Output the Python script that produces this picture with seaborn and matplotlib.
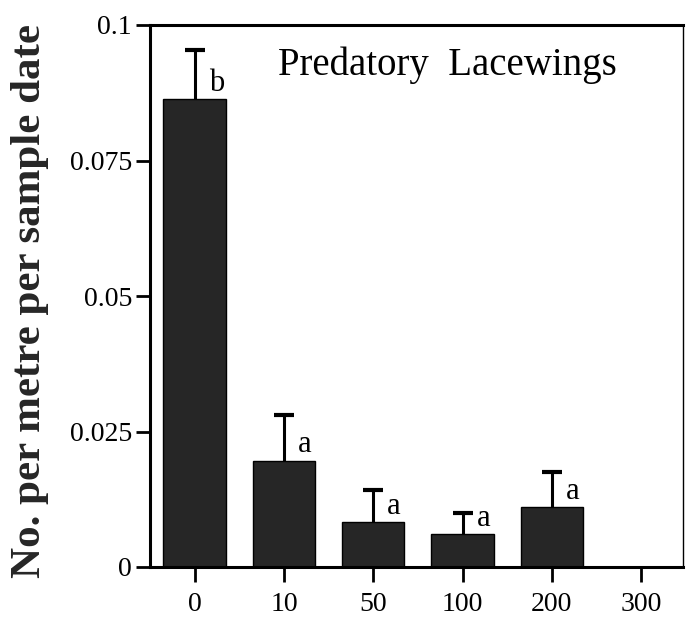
import numpy as np
import pandas as pd
import matplotlib
matplotlib.use("Agg")
import matplotlib.pyplot as plt
import seaborn as sns

# --- data ---
rates = ["0", "10", "50", "100", "200", "300"]
means = [0.0863, 0.0196, 0.0083, 0.0061, 0.0111, 0.0]
upper_err = [0.0091, 0.0084, 0.0059, 0.0039, 0.0064, 0.0]
letters = ["b", "a", "a", "a", "a", ""]

df = pd.DataFrame({"rate": rates, "mean": means, "err": upper_err, "letter": letters})
df["top"] = df["mean"] + df["err"]

sns.set_theme(style="white")
plt.rcParams["font.family"] = ["Liberation Serif", "DejaVu Serif"]

fig = plt.figure(figsize=(6.86, 6.25), dpi=100)
ax = fig.add_axes([0.2187, 0.0928, 0.777, 0.8672])

sns.barplot(data=df, x="rate", y="mean", order=rates, color="#262626",
            edgecolor="black", linewidth=1.0, width=0.7, saturation=1, ax=ax)

# upper-only error bars: stem plus a T cap at the top
shown = df[df["mean"] > 0]
xpos = np.array([rates.index(r) for r in shown["rate"]])
ax.vlines(xpos, shown["mean"], shown["top"], colors="black", linewidth=2.2)
ax.plot(xpos, shown["top"], linestyle="none", marker="_", markersize=15,
        markeredgewidth=3, color="black")

# significance letters sit just above the bar, right of the error stem
for x, m, lab in zip(xpos, shown["mean"], shown["letter"]):
    ax.annotate(lab, (x, m), xytext=(10, 6), textcoords="offset points",
                ha="left", va="baseline", fontsize=22, color="black")

ax.set_xlim(-0.5, 5.47)
ax.set_ylim(0, 0.1)
ax.set_yticks([0, 0.025, 0.05, 0.075, 0.1])
ax.set_yticklabels(["0", "0.025", "0.05", "0.075", "0.1"])
ax.tick_params(axis="y", direction="out", length=10, width=2, labelsize=20,
               pad=3, left=True, colors="black")
ax.tick_params(axis="x", direction="out", length=11, width=2, labelsize=20,
               pad=7, bottom=True, colors="black")
ax.set_xlabel("")
ax.set_ylabel("No. per metre per sample date", fontsize=31, fontweight="bold")
ax.yaxis.set_label_coords(-0.19, 0.49)

for side in ["left", "bottom", "top"]:
    ax.spines[side].set_linewidth(2.2)
    ax.spines[side].set_color("black")
ax.spines["right"].set_linewidth(1.0)
ax.spines["right"].set_color("black")

ax.text(0.241, 0.96, "Predatory  Lacewings", transform=ax.transAxes,
        fontsize=28, ha="left", va="top", color="black")

fig.savefig("out.png", dpi=100)
